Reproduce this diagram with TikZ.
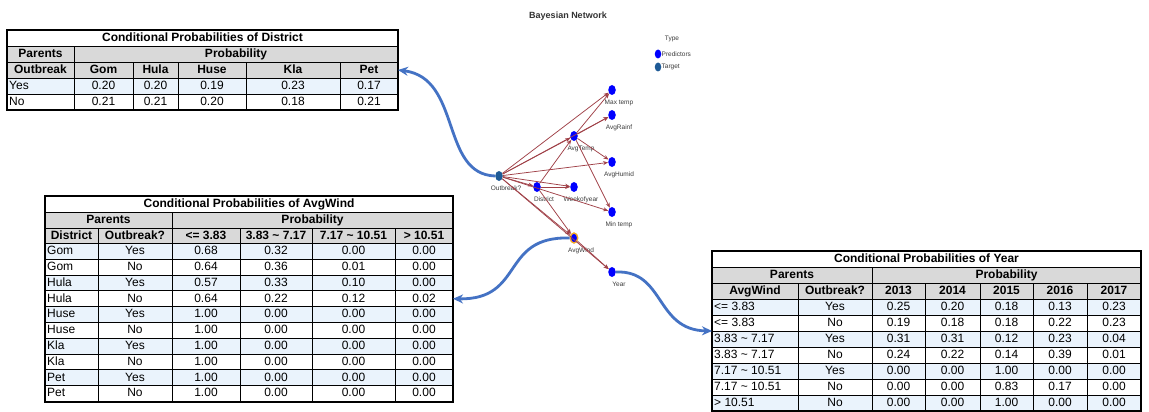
\documentclass[tikz,border=0pt]{standalone}
\usepackage{fontspec}
\setmainfont{Liberation Sans}
\usetikzlibrary{arrows.meta,shapes.geometric}

\definecolor{hdrgray}{RGB}{217,217,217}
\definecolor{rowblue}{RGB}{234,243,252}
\definecolor{linkblue}{RGB}{68,114,196}
\definecolor{edgered}{RGB}{160,65,72}
\definecolor{predblue}{RGB}{0,0,255}
\definecolor{targetblue}{RGB}{30,90,150}
\definecolor{ringorange}{RGB}{245,170,40}
\definecolor{lbl}{RGB}{60,60,60}

% one table row: prefix, top, bottom, fill, cells as left/right/style/text
\newcommand\tabrow[5]{%
  \pgfmathsetmacro\ym{(#2+#3)/2}%
  \foreach \xl/\xr/\st/\tx [count=\ci] in {#5}{%
    \path[cellbox, fill=#4] (\xl,#2) rectangle (\xr,#3);
    \node[\st] (#1-\ci) {\tx};
  }%
}

% one network variable with its caption
\newcommand\bnvar[5]{%
  \node[bnode,#5] (#1) at (#2,#3) {};
  \node[blabel] (#1-l) at (#2+7,#3+12.5) {#4};
}

\begin{document}
\begin{tikzpicture}[x=1pt, y=-1pt,
  cellbox/.style={draw=black, line width=0.9pt},
  celltxt/.style={inner sep=0pt, text height=9pt, text depth=2.5pt, font=\fontsize{12}{14}\selectfont},
  cellc/.style={celltxt, at={({(\xl+\xr)/2},\ym)}},
  celll/.style={celltxt, anchor=west, at={({\xl+2},\ym)}},
  cellh/.style={celltxt, font=\fontsize{12}{14}\selectfont\bfseries, at={({(\xl+\xr)/2},\ym)}},
  frame/.style={draw=black, line width=2pt, inner sep=0pt, outer sep=0pt, anchor=north west},
  bnode/.style={ellipse, minimum width=7.5pt, minimum height=10pt, inner sep=0pt, fill=predblue},
  blabel/.style={font=\fontsize{6.5}{7}\selectfont, text=lbl, inner sep=0pt},
  bedge/.style={draw=edgered, line width=0.75pt, -{Stealth[length=5pt,width=4pt]}},
  link/.style={draw=linkblue, line width=2.8pt, -{Stealth[length=10pt,width=9pt]}}
]
\fill[white] (0,0) rectangle (1149,412);
\useasboundingbox (0,0) rectangle (1149,412);

% ---------- District table ----------
\tabrow{dT}{30}{46}{white}{7/398/cellh/Conditional Probabilities of District}
\tabrow{dP}{46}{62}{hdrgray}{7/74/cellh/Parents,74/398/cellh/Probability}
\tabrow{dH}{62}{78}{hdrgray}{7/74/cellh/Outbreak,74/133/cellh/Gom,133/178/cellh/Hula,178/246/cellh/Huse,246/340/cellh/Kla,340/398/cellh/Pet}
\tabrow{dY}{78}{94}{rowblue}{7/74/celll/Yes,74/133/cellc/0.20,133/178/cellc/0.20,178/246/cellc/0.19,246/340/cellc/0.23,340/398/cellc/0.17}
\tabrow{dN}{94}{110}{white}{7/74/celll/No,74/133/cellc/0.21,133/178/cellc/0.21,178/246/cellc/0.20,246/340/cellc/0.18,340/398/cellc/0.21}
\node[frame, minimum width=391pt, minimum height=80pt] (tDist) at (7,30) {};

% ---------- AvgWind table ----------
\tabrow{wT}{196}{212}{white}{45/453/cellh/Conditional Probabilities of AvgWind}
\tabrow{wP}{212}{228}{hdrgray}{45/172/cellh/Parents,172/453/cellh/Probability}
\tabrow{wH}{228}{243.5}{hdrgray}{45/98/cellh/District,98/172/cellh/Outbreak?,172/240/cellh/<= 3.83,240/312/cellh/3.83 \textasciitilde{} 7.17,312/395/cellh/7.17 \textasciitilde{} 10.51,395/453/cellh/> 10.51}
\tabrow{w1}{243.5}{259.3}{rowblue}{45/98/celll/Gom,98/172/cellc/Yes,172/240/cellc/0.68,240/312/cellc/0.32,312/395/cellc/0.00,395/453/cellc/0.00}
\tabrow{w2}{259.3}{275.1}{white}{45/98/celll/Gom,98/172/cellc/No,172/240/cellc/0.64,240/312/cellc/0.36,312/395/cellc/0.01,395/453/cellc/0.00}
\tabrow{w3}{275.1}{290.9}{rowblue}{45/98/celll/Hula,98/172/cellc/Yes,172/240/cellc/0.57,240/312/cellc/0.33,312/395/cellc/0.10,395/453/cellc/0.00}
\tabrow{w4}{290.9}{306.7}{white}{45/98/celll/Hula,98/172/cellc/No,172/240/cellc/0.64,240/312/cellc/0.22,312/395/cellc/0.12,395/453/cellc/0.02}
\tabrow{w5}{306.7}{322.5}{rowblue}{45/98/celll/Huse,98/172/cellc/Yes,172/240/cellc/1.00,240/312/cellc/0.00,312/395/cellc/0.00,395/453/cellc/0.00}
\tabrow{w6}{322.5}{338.3}{white}{45/98/celll/Huse,98/172/cellc/No,172/240/cellc/1.00,240/312/cellc/0.00,312/395/cellc/0.00,395/453/cellc/0.00}
\tabrow{w7}{338.3}{354.1}{rowblue}{45/98/celll/Kla,98/172/cellc/Yes,172/240/cellc/1.00,240/312/cellc/0.00,312/395/cellc/0.00,395/453/cellc/0.00}
\tabrow{w8}{354.1}{369.9}{white}{45/98/celll/Kla,98/172/cellc/No,172/240/cellc/1.00,240/312/cellc/0.00,312/395/cellc/0.00,395/453/cellc/0.00}
\tabrow{w9}{369.9}{385.7}{rowblue}{45/98/celll/Pet,98/172/cellc/Yes,172/240/cellc/1.00,240/312/cellc/0.00,312/395/cellc/0.00,395/453/cellc/0.00}
\tabrow{w10}{385.7}{401.5}{white}{45/98/celll/Pet,98/172/cellc/No,172/240/cellc/1.00,240/312/cellc/0.00,312/395/cellc/0.00,395/453/cellc/0.00}
\node[frame, minimum width=408pt, minimum height=205.5pt] (tWind) at (45,196) {};

% ---------- Year table ----------
\tabrow{yT}{251}{267}{white}{712/1141/cellh/Conditional Probabilities of Year}
\tabrow{yP}{267}{283}{hdrgray}{712/872/cellh/Parents,872/1141/cellh/Probability}
\tabrow{yH}{283}{299}{hdrgray}{712/798/cellh/AvgWind,798/872/cellh/Outbreak?,872/925/cellh/2013,925/980/cellh/2014,980/1033/cellh/2015,1033/1087/cellh/2016,1087/1141/cellh/2017}
\tabrow{y1}{299}{315}{rowblue}{712/798/celll/<= 3.83,798/872/cellc/Yes,872/925/cellc/0.25,925/980/cellc/0.20,980/1033/cellc/0.18,1033/1087/cellc/0.13,1087/1141/cellc/0.23}
\tabrow{y2}{315}{331}{white}{712/798/celll/<= 3.83,798/872/cellc/No,872/925/cellc/0.19,925/980/cellc/0.18,980/1033/cellc/0.18,1033/1087/cellc/0.22,1087/1141/cellc/0.23}
\tabrow{y3}{331}{347}{rowblue}{712/798/celll/3.83 \textasciitilde{} 7.17,798/872/cellc/Yes,872/925/cellc/0.31,925/980/cellc/0.31,980/1033/cellc/0.12,1033/1087/cellc/0.23,1087/1141/cellc/0.04}
\tabrow{y4}{347}{363}{white}{712/798/celll/3.83 \textasciitilde{} 7.17,798/872/cellc/No,872/925/cellc/0.24,925/980/cellc/0.22,980/1033/cellc/0.14,1033/1087/cellc/0.39,1087/1141/cellc/0.01}
\tabrow{y5}{363}{379}{rowblue}{712/798/celll/7.17 \textasciitilde{} 10.51,798/872/cellc/Yes,872/925/cellc/0.00,925/980/cellc/0.00,980/1033/cellc/1.00,1033/1087/cellc/0.00,1087/1141/cellc/0.00}
\tabrow{y6}{379}{395}{white}{712/798/celll/7.17 \textasciitilde{} 10.51,798/872/cellc/No,872/925/cellc/0.00,925/980/cellc/0.00,980/1033/cellc/0.83,1033/1087/cellc/0.17,1087/1141/cellc/0.00}
\tabrow{y7}{395}{411}{rowblue}{712/798/celll/> 10.51,798/872/cellc/No,872/925/cellc/0.00,925/980/cellc/0.00,980/1033/cellc/1.00,1033/1087/cellc/0.00,1087/1141/cellc/0.00}
\node[frame, minimum width=429pt, minimum height=160pt] (tYear) at (712,251) {};

% ---------- Bayesian network ----------
\node[font=\fontsize{9}{10}\selectfont\bfseries, text=black!80, inner sep=0pt] (title) at (568,16) {Bayesian Network};
\node[blabel] (lgType) at (672,39) {Type};
\node[bnode, minimum width=6.5pt, minimum height=9pt] (lgP) at (658,54) {};
\node[blabel, anchor=west] (lgPt) at (661.5,54) {Predictors};
\node[bnode, minimum width=6.5pt, minimum height=9pt, fill=targetblue] (lgT) at (658,67) {};
\node[blabel, anchor=west] (lgTt) at (661.5,67) {Target};

\bnvar{ob}{499}{176}{Outbreak?}{fill=targetblue}
\bnvar{mx}{612}{90}{Max temp}{}
\bnvar{ar}{612}{115}{AvgRainf}{}
\bnvar{at}{574}{136}{AvgTemp}{}
\bnvar{ah}{612}{162}{AvgHumid}{}
\bnvar{di}{537}{187}{District}{}
\bnvar{wk}{574}{187}{Weekofyear}{}
\bnvar{mn}{612}{212}{Min temp}{}
\bnvar{aw}{574}{238}{AvgWind}{draw=ringorange, line width=1.4pt}
\bnvar{yr}{612}{272}{Year}{}

% dependencies between the variables
\foreach \t in {mx,ar,at,ah,di,wk,mn,aw,yr} \draw[bedge] (ob) -- (\t);
\foreach \t in {mx,ar,ah,mn} \draw[bedge] (at) -- (\t);
\foreach \t in {at,wk,aw} \draw[bedge] (di) -- (\t);
\draw[bedge] (aw) -- (yr);

% links from the variables to their probability tables
\draw[link] (ob.west) .. controls (440,174) and (462,78) .. (tDist.east);
\draw[link] (aw.west) .. controls (500,236) and (525,300) .. (tWind.east);
\draw[link] (yr.east) .. controls (665,270) and (655,330) .. (tYear.west);
\end{tikzpicture}
\end{document}
